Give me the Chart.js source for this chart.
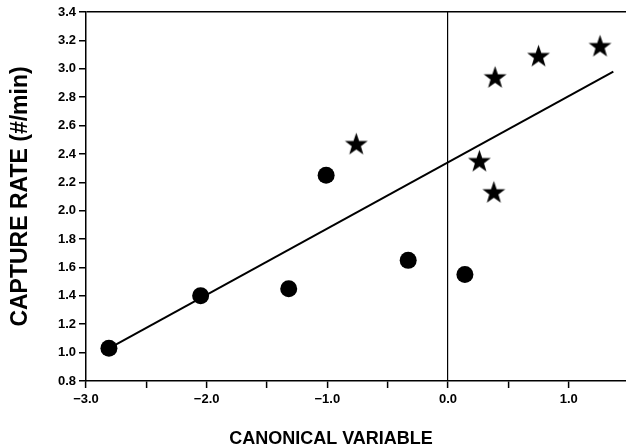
<!DOCTYPE html>
<html>
<head>
<meta charset="utf-8">
<script src="https://cdn.jsdelivr.net/npm/chart.js@4"></script>
<style>
  html, body { margin: 0; padding: 0; background: #fff; overflow: hidden; }
  #wrap { width: 626px; height: 446px; position: relative; }
</style>
</head>
<body>
<div id="wrap"><canvas id="captureChart"></canvas></div>
<script>
// Group 1 (circles): canonical variable vs capture rate (#/min)
const circleX = [-2.81, -2.05, -1.32, -1.01, -0.33, 0.14];
const circleY = [1.03, 1.40, 1.45, 2.25, 1.65, 1.55];

// Group 2 (stars)
const starX = [-0.76, 0.26, 0.39, 0.75, 1.26, 0.38];
const starY = [2.47, 2.35, 2.94, 3.09, 3.16, 2.13];

// Regression line end points
const fitX = [-2.81, 1.37];
const fitY = [1.03, 2.98];

// Tick values
const xTicks = [-3.0, -2.5, -2.0, -1.5, -1.0, -0.5, 0.0, 0.5, 1.0];
const yTicks = [0.8, 1.0, 1.2, 1.4, 1.6, 1.8, 2.0, 2.2, 2.4, 2.6, 2.8, 3.0, 3.2, 3.4];

const toPoints = (xs, ys) => xs.map((x, i) => ({ x: x, y: ys[i] }));

// filled five-pointed star used as point style
function makeStar(size) {
  const c = document.createElement("canvas");
  c.width = size;
  c.height = size;
  const g = c.getContext("2d");
  const cx = size / 2, cy = size / 2 + 0.8;
  const outer = size / 2 - 0.5, inner = outer * 0.4;
  g.beginPath();
  for (let i = 0; i < 10; i++) {
    const r = i % 2 === 0 ? outer : inner;
    const a = -Math.PI / 2 + i * Math.PI / 5;
    const px = cx + r * Math.cos(a), py = cy + r * Math.sin(a);
    if (i === 0) g.moveTo(px, py); else g.lineTo(px, py);
  }
  g.closePath();
  g.fillStyle = "#000";
  g.fill();
  return c;
}

const tickFont = { family: "'Liberation Sans', Arial, sans-serif", size: 13, weight: "bold" };

const chart = new Chart(document.getElementById("captureChart"), {
  type: "scatter",
  data: {
    datasets: [{
      label: "fit",
      type: "line",
      data: toPoints(fitX, fitY),
      showLine: true,
      borderColor: "#000",
      borderWidth: 2,
      pointRadius: 0,
      fill: false
    }, {
      label: "circles",
      data: toPoints(circleX, circleY),
      pointStyle: "circle",
      pointRadius: 8.5,
      backgroundColor: "#000",
      borderWidth: 0
    }, {
      label: "stars",
      data: toPoints(starX, starY),
      pointStyle: makeStar(25),
      pointRadius: 12
    }]
  },
  options: {
    responsive: true,
    maintainAspectRatio: false,
    animation: false,
    layout: { autoPadding: false, padding: { top: 12, right: 0, left: 0, bottom: 0 } },
    plugins: { legend: { display: false }, tooltip: { enabled: false } },
    scales: {
      x: {
        type: "linear",
        min: -3.0,
        max: 1.475,
        afterBuildTicks: (scale) => { scale.ticks = xTicks.map(v => ({ value: v })); },
        afterFit: (scale) => {
          scale.height = 65;
          scale.paddingLeft = 0;
          scale.paddingRight = 0;
        },
        border: { color: "#000", width: 1.5 },
        grid: {
          color: (ctx) => (ctx.tick && ctx.tick.value === 0 ? "#000" : "rgba(0,0,0,0)"),
          lineWidth: 1.2,
          tickColor: "#000",
          tickWidth: 1.5,
          tickLength: 7
        },
        ticks: {
          color: "#000",
          font: tickFont,
          padding: 4,
          maxRotation: 0,
          autoSkip: false,
          callback: (v) => {
            if (Math.abs(v - Math.round(v)) > 1e-6) return "";
            return (v < 0 ? "\u2212" : "") + Math.abs(v).toFixed(1);
          }
        },
        title: {
          display: true,
          text: "CANONICAL VARIABLE          ",
          color: "#000",
          font: { family: "'Liberation Sans', Arial, sans-serif", size: 18, weight: "bold", lineHeight: 0.8 },
          padding: { top: 0, bottom: 0 }
        }
      },
      y: {
        min: 0.8,
        max: 3.4,
        afterBuildTicks: (scale) => { scale.ticks = yTicks.map(v => ({ value: v })); },
        afterFit: (scale) => {
          scale.width = 86;
          scale.paddingTop = 0;
          scale.paddingBottom = 0;
        },
        border: { color: "#000", width: 1.5 },
        grid: {
          color: (ctx) => (ctx.tick && Math.abs(ctx.tick.value - 3.4) < 1e-6 ? "#000" : "rgba(0,0,0,0)"),
          lineWidth: 1.5,
          tickColor: "#000",
          tickWidth: 1.5,
          tickLength: 7
        },
        ticks: {
          color: "#000",
          font: tickFont,
          padding: 3,
          autoSkip: false,
          callback: (v) => Number(v).toFixed(1)
        },
        title: {
          display: true,
          text: "CAPTURE RATE (#/min)",
          color: "#000",
          font: { family: "'Liberation Sans', Arial, sans-serif", size: 23, weight: "bold", lineHeight: 1 },
          padding: { top: 9, bottom: 0 }
        }
      }
    }
  }
});
</script>
</body>
</html>
